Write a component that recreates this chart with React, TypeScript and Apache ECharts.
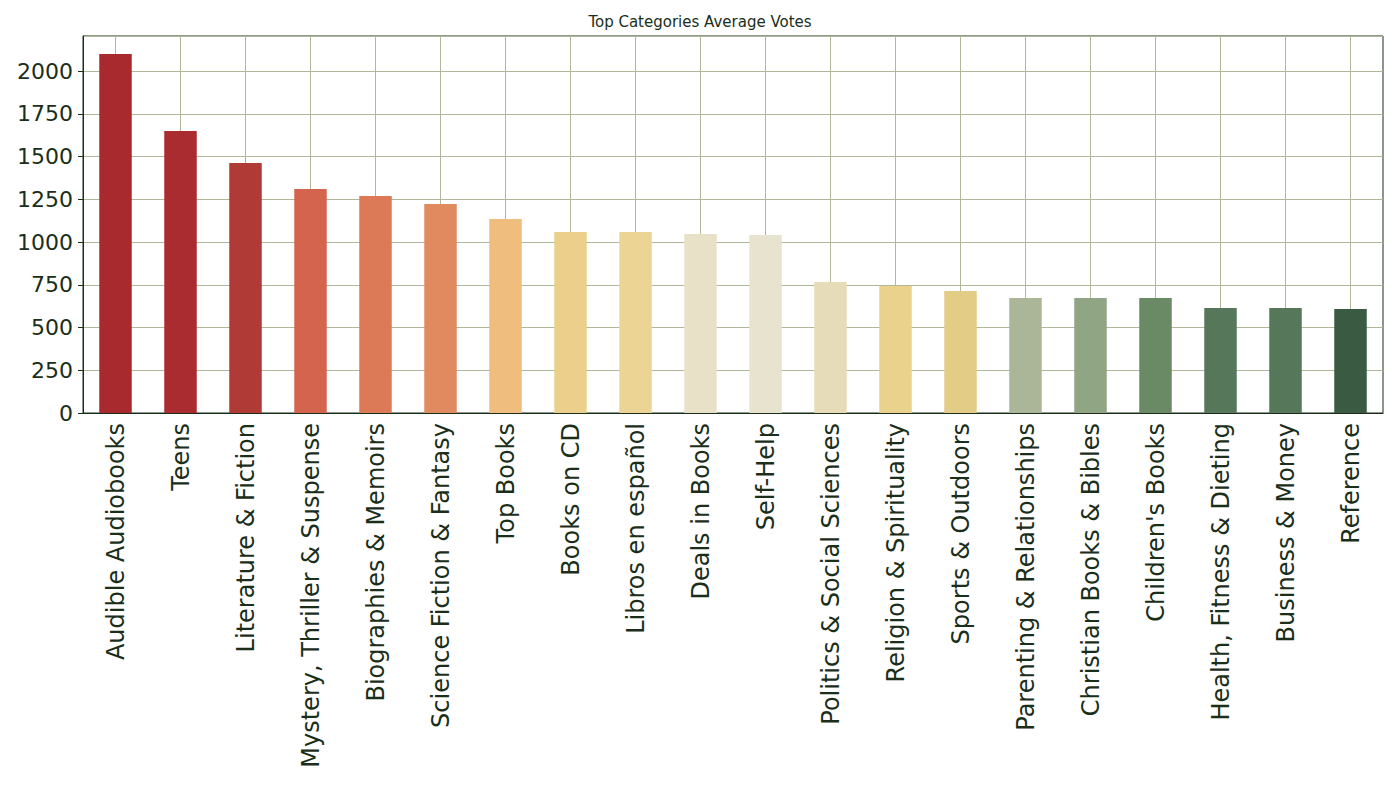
import { useEffect, useRef } from 'react';
import * as echarts from 'echarts';

const categories = ['Audible Audiobooks', 'Teens', 'Literature & Fiction', 'Mystery, Thriller & Suspense', 'Biographies & Memoirs', 'Science Fiction & Fantasy', 'Top Books', 'Books on CD', 'Libros en español', 'Deals in Books', 'Self-Help', 'Politics & Social Sciences', 'Religion & Spirituality', 'Sports & Outdoors', 'Parenting & Relationships', "Christian Books & Bibles", "Children's Books", 'Health, Fitness & Dieting', 'Business & Money', 'Reference'];
const votes = [2099, 1649, 1462, 1310, 1269, 1222, 1134, 1058, 1058, 1047, 1041, 766, 743, 713, 672, 672, 672, 614, 614, 608];
const colors = ['#a82a2f', '#aa2c30', '#b03a35', '#d4644d', '#dc7a58', '#e08a5f', '#efbd7d', '#ebd08c', '#ecd594', '#e9e1c7', '#e8e3cf', '#e7dcb8', '#ead18c', '#e3cc86', '#abb699', '#8fa584', '#6a8a66', '#56775a', '#56775a', '#3a5a42'];
const yTicks = [0, 250, 500, 750, 1000, 1250, 1500, 1750, 2000];

const gridColor = '#b0b89a';
const ink = '#1a2e1a';

const App = () => {
    const chartRef = useRef<HTMLDivElement | null>(null);

    useEffect(() => {
        if (!chartRef.current) return;
        const chart = echarts.init(chartRef.current, null, { renderer: 'svg' });
        // hidden helper axis: 41 points, odd ones fall at band centres -> vertical grid lines
        const helper = Array.from({ length: categories.length * 2 + 1 }, (_, i) => String(i));
        chart.setOption({
            animation: false,
            textStyle: { fontFamily: 'DejaVu Sans' },
            title: {
                text: 'Top Categories Average Votes',
                left: 'center',
                top: 9,
                textStyle: { fontSize: 15, fontWeight: 'normal', color: ink }
            },
            grid: { left: 83, right: 17, top: 36, bottom: 387, show: true, borderColor: ink, borderWidth: 1 },
            xAxis: [
                {
                    type: 'category',
                    data: categories,
                    axisLine: { lineStyle: { color: ink } },
                    axisTick: { alignWithLabel: true, length: 5, lineStyle: { color: ink } },
                    axisLabel: { rotate: 90, fontSize: 24, color: ink, interval: 0, margin: 10 },
                    splitLine: { show: false }
                },
                {
                    type: 'category',
                    data: helper,
                    boundaryGap: false,
                    position: 'bottom',
                    axisLine: { show: false },
                    axisTick: { show: false },
                    axisLabel: { show: false },
                    splitLine: { show: true, interval: (i: number) => i % 2 === 1, lineStyle: { color: gridColor, width: 1 } }
                }
            ],
            yAxis: {
                type: 'value',
                min: 0,
                max: 2205,
                interval: 250,
                axisLine: { show: true, lineStyle: { color: ink } },
                axisTick: { show: true, length: 5, lineStyle: { color: ink } },
                axisLabel: { fontSize: 22, color: ink, margin: 10, showMaxLabel: false, formatter: (v: number) => (yTicks.includes(v) ? String(v) : '') },
                splitLine: { show: true, lineStyle: { color: gridColor, width: 1 } }
            },
            series: [
                {
                    type: 'bar',
                    xAxisIndex: 0,
                    barWidth: '50%',
                    z: 1,
                    data: votes.map((v, i) => ({ value: v, itemStyle: { color: colors[i] } }))
                }
            ]
        });
        return () => chart.dispose();
    }, []);

    return <div ref={chartRef} style={{ width: 1400, height: 800, margin: -8 }} />;
};

export default App;
